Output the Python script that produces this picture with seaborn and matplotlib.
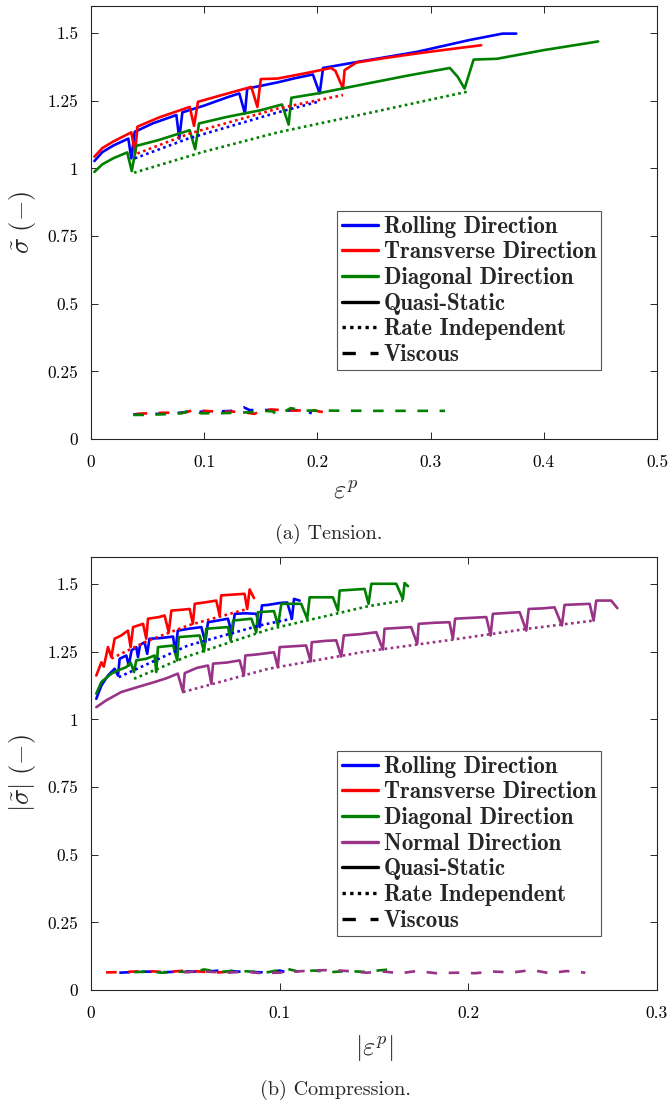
import matplotlib
matplotlib.use("Agg")
import numpy as np
import pandas as pd
import seaborn as sns
import matplotlib.pyplot as plt
from matplotlib.lines import Line2D

sns.set_theme(style="white")
plt.rcParams["font.family"] = ["cmr10", "DejaVu Serif"]
plt.rcParams["mathtext.fontset"] = "cm"
plt.rcParams["axes.formatter.use_mathtext"] = True
plt.rcParams["axes.unicode_minus"] = False

# ---------------- colours ----------------
C_RD = "#0000FF"
C_TD = "#FF0000"
C_DD = "#008000"
C_ND = "#993388"

# ---------------- (a) Tension ----------------
ten_rd_qs_x = [0.003, 0.010, 0.020, 0.033, 0.0356, 0.0386, 0.055, 0.0754, 0.078, 0.0807, 0.100, 0.120, 0.131, 0.136,
               0.138, 0.150, 0.165, 0.180, 0.196, 0.202, 0.205, 0.2363, 0.2535, 0.2885, 0.334, 0.350, 0.3636, 0.3757]
ten_rd_qs_y = [1.027, 1.060, 1.085, 1.110, 1.037, 1.135, 1.167, 1.197, 1.110, 1.207, 1.232, 1.262, 1.277, 1.203,
               1.295, 1.305, 1.318, 1.333, 1.347, 1.277, 1.371, 1.394, 1.406, 1.431, 1.474, 1.487, 1.498, 1.498]

ten_td_qs_x = [0.003, 0.010, 0.020, 0.0356, 0.039, 0.041, 0.060, 0.0872, 0.091, 0.0945, 0.120, 0.1416, 0.147, 0.150,
               0.165, 0.190, 0.212, 0.216, 0.2226, 0.224, 0.2344, 0.260, 0.2885, 0.320, 0.3447]
ten_td_qs_y = [1.043, 1.075, 1.100, 1.133, 1.055, 1.154, 1.188, 1.227, 1.157, 1.246, 1.276, 1.301, 1.227, 1.330,
               1.332, 1.352, 1.371, 1.360, 1.295, 1.363, 1.391, 1.408, 1.425, 1.442, 1.455]

ten_dd_qs_x = [0.003, 0.010, 0.020, 0.032, 0.036, 0.040, 0.060, 0.0872, 0.092, 0.0954, 0.120, 0.150, 0.1687, 0.1746,
               0.177, 0.2005, 0.2447, 0.280, 0.317, 0.324, 0.330, 0.338, 0.3587, 0.400, 0.448]
ten_dd_qs_y = [0.987, 1.015, 1.038, 1.059, 0.990, 1.083, 1.105, 1.141, 1.071, 1.166, 1.190, 1.215, 1.236, 1.162,
               1.261, 1.277, 1.314, 1.343, 1.371, 1.338, 1.295, 1.402, 1.405, 1.437, 1.469]

ten_rd_ri_x = [0.0386, 0.0857, 0.165, 0.2005]
ten_rd_ri_y = [1.037, 1.110, 1.207, 1.246]
ten_td_ri_x = [0.041, 0.0872, 0.165, 0.2226]
ten_td_ri_y = [1.055, 1.129, 1.221, 1.271]
ten_dd_ri_x = [0.038, 0.100, 0.165, 0.2447, 0.332]
ten_dd_ri_y = [0.984, 1.062, 1.133, 1.204, 1.283]

ten_rd_vi_x = [0.0374, 0.0557, 0.0738, 0.078, 0.087, 0.1077, 0.125, 0.135, 0.140, 0.155, 0.1723, 0.187, 0.195]
ten_rd_vi_y = [0.091, 0.093, 0.093, 0.097, 0.101, 0.101, 0.104, 0.117, 0.107, 0.107, 0.105, 0.107, 0.095]
ten_td_vi_x = [0.0403, 0.0624, 0.0815, 0.0933, 0.100, 0.112, 0.130, 0.1445, 0.150, 0.159, 0.168, 0.180, 0.1945, 0.214]
ten_td_vi_y = [0.093, 0.097, 0.097, 0.109, 0.104, 0.101, 0.101, 0.093, 0.104, 0.109, 0.107, 0.105, 0.107, 0.093]
ten_dd_vi_x = [0.0374, 0.0492, 0.060, 0.080, 0.0885, 0.0974, 0.111, 0.130, 0.145, 0.153, 0.160, 0.166, 0.1763, 0.188,
               0.203, 0.250, 0.3127]
ten_dd_vi_y = [0.089, 0.089, 0.091, 0.095, 0.107, 0.095, 0.095, 0.097, 0.100, 0.104, 0.102, 0.089, 0.114, 0.105,
               0.105, 0.104, 0.104]

# ---------------- (b) Compression ----------------
com_rd_qs_x = [0.0028, 0.0055, 0.009, 0.0125, 0.0143, 0.0152, 0.0187, 0.020, 0.0215, 0.024, 0.0249, 0.026, 0.0284,
               0.0298, 0.031, 0.036, 0.040, 0.0435, 0.0447, 0.046, 0.052, 0.0585, 0.0606, 0.062, 0.067, 0.0726,
               0.0747, 0.0762, 0.082, 0.0876, 0.0894, 0.0906, 0.0938, 0.100, 0.104, 0.1065, 0.1076, 0.1106]
com_rd_qs_y = [1.076, 1.125, 1.162, 1.187, 1.162, 1.224, 1.236, 1.199, 1.255, 1.267, 1.230, 1.275, 1.285,
               1.242, 1.298, 1.300, 1.303, 1.306, 1.246, 1.328, 1.335, 1.341, 1.285, 1.359, 1.365, 1.372,
               1.316, 1.390, 1.392, 1.390, 1.341, 1.421, 1.423, 1.430, 1.432, 1.372, 1.445, 1.439]

com_td_qs_x = [0.0028, 0.0055, 0.0068, 0.009, 0.0108, 0.0125, 0.016, 0.0196, 0.021, 0.0223, 0.0276, 0.0293, 0.0302,
               0.036, 0.039, 0.0412, 0.0426, 0.048, 0.0523, 0.054, 0.055, 0.061, 0.0664, 0.0682, 0.069, 0.075,
               0.0814, 0.0828, 0.0841, 0.0864]
com_td_qs_y = [1.162, 1.211, 1.195, 1.267, 1.230, 1.298, 1.310, 1.328, 1.267, 1.341, 1.353, 1.298, 1.372,
               1.378, 1.384, 1.322, 1.402, 1.405, 1.408, 1.353, 1.427, 1.433, 1.439, 1.384, 1.458, 1.461,
               1.464, 1.408, 1.480, 1.448]

com_dd_qs_x = [0.0028, 0.0055, 0.0108, 0.0143, 0.0187, 0.021, 0.0228, 0.024, 0.0293, 0.0337, 0.0346, 0.0355, 0.0435,
               0.0457, 0.0465, 0.0576, 0.0599, 0.0611, 0.0726, 0.074, 0.0753, 0.085, 0.0876, 0.0885, 0.097,
               0.0991, 0.1009, 0.1114, 0.1146, 0.1159, 0.1282, 0.1309, 0.1318, 0.145, 0.1471, 0.1486, 0.1618,
               0.1653, 0.1662, 0.168]
com_dd_qs_y = [1.095, 1.138, 1.169, 1.181, 1.193, 1.210, 1.175, 1.218, 1.224, 1.236, 1.175, 1.267, 1.273,
               1.218, 1.304, 1.310, 1.251, 1.335, 1.341, 1.292, 1.365, 1.372, 1.322, 1.396, 1.400,
               1.347, 1.427, 1.427, 1.372, 1.451, 1.451, 1.402, 1.476, 1.482, 1.427, 1.501, 1.501,
               1.445, 1.504, 1.492]

com_nd_qs_x = [0.0028, 0.008, 0.016, 0.025, 0.0337, 0.040, 0.046, 0.0488, 0.0497, 0.056, 0.062, 0.0638, 0.0647,
               0.072, 0.0788, 0.081, 0.0818, 0.088, 0.097, 0.099, 0.100, 0.107, 0.114, 0.1164, 0.117, 0.124,
               0.130, 0.1326, 0.134, 0.143, 0.1512, 0.1547, 0.1556, 0.163, 0.1697, 0.1729, 0.1737, 0.182,
               0.190, 0.1918, 0.193, 0.201, 0.2095, 0.2118, 0.213, 0.220, 0.2272, 0.2307, 0.232, 0.239,
               0.2457, 0.2496, 0.251, 0.258, 0.2643, 0.2664, 0.2678, 0.2757, 0.279]
com_nd_qs_y = [1.045, 1.070, 1.101, 1.120, 1.138, 1.152, 1.169, 1.101, 1.171, 1.190, 1.199, 1.132, 1.206,
               1.210, 1.218, 1.162, 1.236, 1.240, 1.248, 1.193, 1.267, 1.270, 1.273, 1.214, 1.285, 1.290,
               1.292, 1.232, 1.310, 1.315, 1.322, 1.258, 1.335, 1.338, 1.341, 1.279, 1.353, 1.357,
               1.359, 1.298, 1.372, 1.375, 1.378, 1.310, 1.390, 1.393, 1.396, 1.328, 1.408, 1.410,
               1.414, 1.347, 1.423, 1.425, 1.427, 1.365, 1.439, 1.439, 1.411]

com_rd_ri_x = [0.0147, 0.0514, 0.0894, 0.1065]
com_rd_ri_y = [1.156, 1.273, 1.347, 1.372]
com_td_ri_x = [0.0108, 0.030, 0.0514, 0.0828]
com_td_ri_y = [1.225, 1.290, 1.347, 1.408]
com_dd_ri_x = [0.0228, 0.050, 0.094, 0.1468, 0.1653]
com_dd_ri_y = [1.150, 1.230, 1.332, 1.418, 1.439]
com_nd_ri_x = [0.0488, 0.094, 0.145, 0.189, 0.2316, 0.2664]
com_nd_ri_y = [1.101, 1.187, 1.250, 1.292, 1.335, 1.365]

com_rd_vi_x = [0.015, 0.022, 0.030, 0.040, 0.050, 0.060, 0.068, 0.078, 0.088, 0.095, 0.100, 0.104]
com_rd_vi_y = [0.064, 0.066, 0.068, 0.066, 0.069, 0.067, 0.072, 0.068, 0.066, 0.064, 0.072, 0.064]
com_td_vi_x = [0.008, 0.015, 0.022, 0.030, 0.040, 0.050, 0.058, 0.066, 0.073]
com_td_vi_y = [0.065, 0.066, 0.068, 0.070, 0.066, 0.072, 0.068, 0.064, 0.068]
com_dd_vi_x = [0.023, 0.030, 0.038, 0.046, 0.054, 0.060, 0.068, 0.076, 0.085, 0.094, 0.1035, 0.110, 0.118, 0.127,
               0.136, 0.145, 0.152, 0.157]
com_dd_vi_y = [0.066, 0.068, 0.064, 0.068, 0.066, 0.076, 0.066, 0.072, 0.068, 0.066, 0.079, 0.068, 0.072, 0.066,
               0.070, 0.067, 0.072, 0.075]
com_nd_vi_x = [0.049, 0.0604, 0.0728, 0.0816, 0.0904, 0.0993, 0.108, 0.117, 0.1275, 0.136, 0.146, 0.155, 0.164,
               0.1726, 0.183, 0.194, 0.2035, 0.2132, 0.2238, 0.2335, 0.2432, 0.252, 0.262]
com_nd_vi_y = [0.066, 0.068, 0.064, 0.068, 0.062, 0.064, 0.068, 0.072, 0.074, 0.070, 0.064, 0.068, 0.062,
               0.070, 0.062, 0.064, 0.062, 0.068, 0.065, 0.074, 0.062, 0.070, 0.064]

# ---------------- ticks & labels ----------------
ten_xticks = [0, 0.1, 0.2, 0.3, 0.4, 0.5]
ten_xticklabels = ["0", "0.1", "0.2", "0.3", "0.4", "0.5"]
com_xticks = [0, 0.1, 0.2, 0.3]
com_xticklabels = ["0", "0.1", "0.2", "0.3"]
yticks = [0, 0.25, 0.5, 0.75, 1.0, 1.25, 1.5]
yticklabels = ["0", "0.25", "0.5", "0.75", "1", "1.25", "1.5"]

ten_legend = ["Rolling Direction", "Transverse Direction", "Diagonal Direction",
              "Quasi-Static", "Rate Independent", "Viscous"]
com_legend = ["Rolling Direction", "Transverse Direction", "Diagonal Direction", "Normal Direction",
              "Quasi-Static", "Rate Independent", "Viscous"]

LW = 1.9
STYLES = {"qs": "-", "ri": (0, (1.0, 1.3)), "vi": (0, (4.0, 4.4))}


def draw(ax, x, y, color, kind):
    df = pd.DataFrame({"x": x, "y": y})
    sns.lineplot(data=df, x="x", y="y", ax=ax, color=color, lw=LW, linestyle=STYLES[kind],
                 estimator=None, sort=False, legend=False)


W, H = 670, 1104
fig = plt.figure(figsize=(W / 100, H / 100), dpi=100)
ax1 = fig.add_axes([91 / W, 1 - 439 / H, 566 / W, 433 / H])
ax2 = fig.add_axes([91 / W, 1 - 990 / H, 566 / W, 433 / H])

# tension
for c, a, b in [(C_RD, ten_rd_qs_x, ten_rd_qs_y), (C_TD, ten_td_qs_x, ten_td_qs_y), (C_DD, ten_dd_qs_x, ten_dd_qs_y)]:
    draw(ax1, a, b, c, "qs")
for c, a, b in [(C_RD, ten_rd_ri_x, ten_rd_ri_y), (C_TD, ten_td_ri_x, ten_td_ri_y), (C_DD, ten_dd_ri_x, ten_dd_ri_y)]:
    draw(ax1, a, b, c, "ri")
for c, a, b in [(C_RD, ten_rd_vi_x, ten_rd_vi_y), (C_TD, ten_td_vi_x, ten_td_vi_y), (C_DD, ten_dd_vi_x, ten_dd_vi_y)]:
    draw(ax1, a, b, c, "vi")

# compression
for c, a, b in [(C_RD, com_rd_qs_x, com_rd_qs_y), (C_TD, com_td_qs_x, com_td_qs_y),
                (C_DD, com_dd_qs_x, com_dd_qs_y), (C_ND, com_nd_qs_x, com_nd_qs_y)]:
    draw(ax2, a, b, c, "qs")
for c, a, b in [(C_RD, com_rd_ri_x, com_rd_ri_y), (C_TD, com_td_ri_x, com_td_ri_y),
                (C_DD, com_dd_ri_x, com_dd_ri_y), (C_ND, com_nd_ri_x, com_nd_ri_y)]:
    draw(ax2, a, b, c, "ri")
for c, a, b in [(C_RD, com_rd_vi_x, com_rd_vi_y), (C_TD, com_td_vi_x, com_td_vi_y),
                (C_DD, com_dd_vi_x, com_dd_vi_y), (C_ND, com_nd_vi_x, com_nd_vi_y)]:
    draw(ax2, a, b, c, "vi")


def style_axes(ax, xticks, xlabels, xlabel, ylabel, xmax, xlab_x, xlab_y):
    ax.set_xlim(0, xmax)
    ax.set_ylim(0, 1.6)
    ax.set_xticks(xticks)
    ax.set_xticklabels(xlabels)
    ax.set_yticks(yticks)
    ax.set_yticklabels(yticklabels)
    ax.tick_params(direction="in", length=5, width=0.7, colors="#262626", labelsize=12.5,
                   top=True, right=True, bottom=True, left=True, labelcolor="black")
    ax.tick_params(axis="x", pad=11)
    ax.tick_params(axis="y", pad=9)
    for s in ax.spines.values():
        s.set_color("#262626")
        s.set_linewidth(0.8)
        s.set_visible(True)
    ax.set_xlabel(xlabel, fontsize=19)
    ax.set_ylabel(ylabel, fontsize=19)
    ax.xaxis.set_label_coords(xlab_x, xlab_y)
    ax.yaxis.set_label_coords(-0.094, 0.5)
    ax.grid(False)


style_axes(ax1, ten_xticks, ten_xticklabels, r"$\varepsilon^p$", r"$\tilde{\sigma}\ (-)$", 0.5, 0.449, -0.095)
style_axes(ax2, com_xticks, com_xticklabels, r"$|\varepsilon^p|$", r"$|\tilde{\sigma}|\ (-)$", 0.3, 0.5, -0.1)


def make_legend(ax, labels, colors, anchor):
    handles = [Line2D([], [], color=c, lw=2.4) for c in colors]
    handles += [Line2D([], [], color="black", lw=2.4, linestyle=STYLES[k]) for k in ("qs", "ri", "vi")]
    leg = ax.legend(handles, labels, loc="upper left", bbox_to_anchor=anchor, borderaxespad=0,
                    frameon=True, fancybox=False, edgecolor="#555555", framealpha=1,
                    prop={"family": "cmb10", "size": 16.5}, handlelength=1.6, handletextpad=0.25,
                    labelspacing=0.16, borderpad=0.2)
    leg.get_frame().set_linewidth(0.8)


make_legend(ax1, ten_legend, [C_RD, C_TD, C_DD], (0.4346, 0.5266))
make_legend(ax2, com_legend, [C_RD, C_TD, C_DD, C_ND], (0.4346, 0.552))

fig.text(0.49, 1 - 534 / H, "(a) Tension.", ha="center", va="center", fontsize=14.5)
fig.text(0.5, 1 - 1090 / H, "(b) Compression.", ha="center", va="center", fontsize=14.5)

fig.savefig("out.png", dpi=100)
